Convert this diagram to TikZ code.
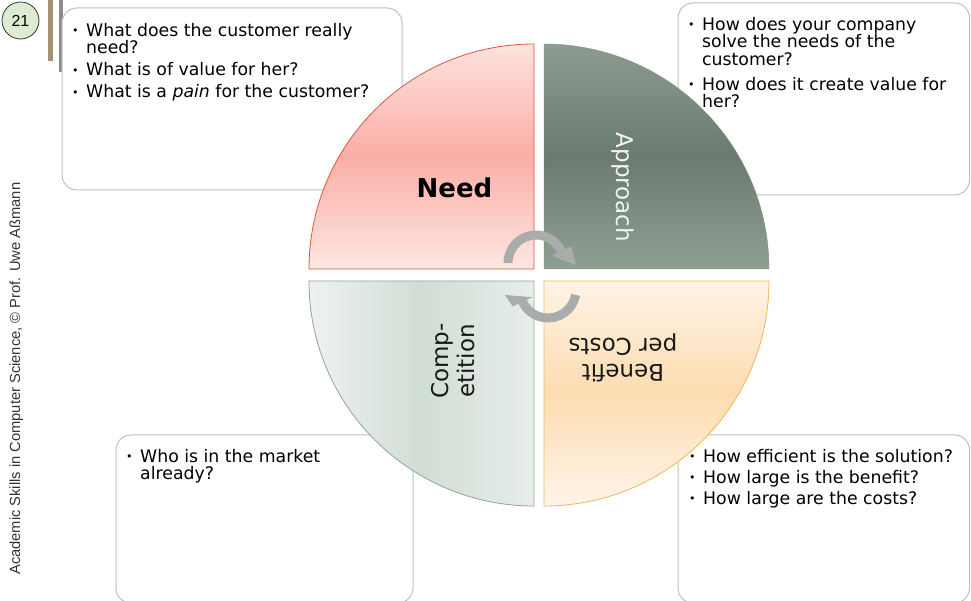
\documentclass[tikz,border=0pt]{standalone}
\usepackage{fontspec}
\setmainfont{DejaVu Sans}
\newfontfamily\sidefont{Liberation Sans}
\definecolor{boxgray}{HTML}{BCC3BE}
\definecolor{needTop}{HTML}{FEE2DE}
\definecolor{needMid}{HTML}{FAAEA5}
\definecolor{needBot}{HTML}{FEE6E2}
\definecolor{needBorder}{HTML}{D9563F}
\definecolor{appTop}{HTML}{8D9C8F}
\definecolor{appMid}{HTML}{6B7A6E}
\definecolor{appBot}{HTML}{8FA093}
\definecolor{compSide}{HTML}{EEF2F0}
\definecolor{compMid}{HTML}{D0DDD4}
\definecolor{compBorder}{HTML}{98A29C}
\definecolor{benTop}{HTML}{FFF3E6}
\definecolor{benMid}{HTML}{FDDCB0}
\definecolor{benBot}{HTML}{FFF5EA}
\definecolor{benBorder}{HTML}{EDB85A}
\definecolor{arrowgray}{HTML}{A8ADAB}
\definecolor{pnFill}{HTML}{DDEBD3}
\definecolor{tanbar}{HTML}{A39370}
\definecolor{greybar}{HTML}{8C8C8C}
\definecolor{sidetext}{HTML}{333333}
\newcommand\bul{\makebox[14pt][l]{\raisebox{1.5pt}{\fontsize{11}{11}\selectfont •}}}
\newcommand\ind{\hspace*{14pt}}
\tikzset{
  qbox/.style={draw=boxgray, line width=1pt, rounded corners=15pt, fill=white},
  btext/.style={anchor=north west, align=left, inner sep=0pt, font=\fontsize{17.3}{17.5}\selectfont, text=black},
  lbl/.style={inner sep=0pt, font=\fontsize{23}{26}\selectfont, align=center},
  shaft/.style={line width=9pt, draw=arrowgray},
  headfill/.style={fill=arrowgray},
}
\begin{document}
\begin{tikzpicture}[x=1pt,y=1pt]
\useasboundingbox (0,0) rectangle (971,601);
% margin decorations
\fill[tanbar] (48,540) rectangle (53,601);
\fill[greybar] (59,529) rectangle (63,601);
\node[circle, draw=black!80, line width=0.8pt, fill=pnFill, minimum size=37pt, inner sep=0pt,
      font=\sidefont\fontsize{16}{18}\selectfont] (pagenum) at (20.5,580.5) {21};
\node[rotate=90, anchor=base west, inner sep=0pt, text=sidetext,
      font=\sidefont\fontsize{14.7}{16}\selectfont] (side) at (20,26)
      {Academic Skills in Computer Science, © Prof. Uwe Aßmann};
% boxes
\draw[qbox] (62,411) rectangle (402,593);
\draw[qbox] (678,406) rectangle (969.5,598);
\draw[qbox] (116,-2) rectangle (413,166);
\draw[qbox] (678,-2) rectangle (969.5,166);
% quadrants
\path[draw=needBorder, line width=0.8pt, top color=needTop, bottom color=needBot, middle color=needMid]
  (534,332) -- (309,332) arc[start angle=180, end angle=90, radius=225] -- cycle;
\path[draw=appTop!90!black, line width=0.4pt, top color=appTop, bottom color=appBot, middle color=appMid]
  (544,332) -- (769,332) arc[start angle=0, end angle=90, radius=225] -- cycle;
\path[draw=compBorder, line width=0.8pt, left color=compSide, right color=compSide!80!compMid, middle color=compMid]
  (534,320) -- (309,320) arc[start angle=180, end angle=270, radius=225] -- cycle;
\path[draw=benBorder, line width=0.8pt, top color=benTop, bottom color=benBot, middle color=benMid]
  (544,320) -- (769,320) arc[start angle=0, end angle=-90, radius=225] -- cycle;
% circular arrows
\coordinate (c1) at (536,338);
\coordinate (t1) at (576,336);
\draw[shaft] ([shift={(180:28)}]c1) arc[start angle=180, end angle=25, radius=28];
\fill[headfill] ([shift={(25:39)}]c1) -- ([shift={(25:17)}]c1) -- (t1) -- cycle;
\coordinate (c2) at (548,311);
\coordinate (t2) at (505,306);
\draw[shaft] ([shift={(-10:28)}]c2) arc[start angle=-10, end angle=-155, radius=28];
\fill[headfill] ([shift={(-155:39)}]c2) -- ([shift={(-155:17)}]c2) -- (t2) -- cycle;
% quadrant labels
\node[inner sep=0pt, anchor=base, font=\fontsize{26}{30}\selectfont\bfseries] (need) at (454.5,403) {Need};
\node[lbl, rotate=-90, text=white!95!black] (approach) at (623,413.5) {Approach};
\node[lbl, rotate=90, text=black!90] (comp) at (453.5,240) {Comp-\\etition};
\node[lbl, rotate=180, text=black!90] (benefit) at (623,243) {Benefit\\per Costs};
% box texts
\node[btext] (tltext) at (72,578.1)
  {\bul What does the customer really\\\ind need?\\[4.5pt]
   \bul What is of value for her?\\[4.5pt]
   \bul What is a \textit{pain} for the customer?};
\node[btext] (trtext) at (688,584.1)
  {\bul How does your company\\\ind solve the needs of the\\\ind customer?\\[7.5pt]
   \bul How does it create value for\\\ind her?};
\node[btext] (bltext) at (126,152.1)
  {\bul Who is in the market\\\ind already?};
\node[btext] (brtext) at (689,152.1)
  {\bul How efficient is the solution?\\[3.5pt]
   \bul How large is the benefit?\\[3.5pt]
   \bul How large are the costs?};
\end{tikzpicture}
\end{document}
